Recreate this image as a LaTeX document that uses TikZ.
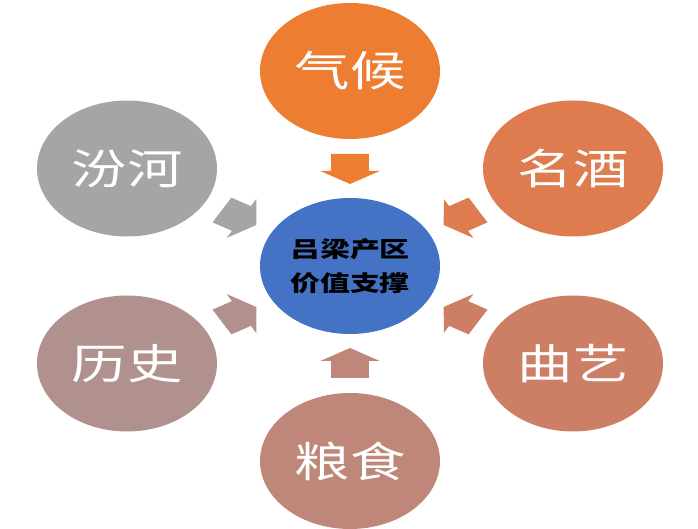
\documentclass[tikz,border=0pt]{standalone}
\usepackage{fontspec}
\usepackage{graphicx}
\newfontfamily\cjk{Noto Sans CJK SC}
\usetikzlibrary{shapes.geometric}
\definecolor{cQH}{HTML}{ED7D31}
\definecolor{cMJ}{HTML}{DE7C4F}
\definecolor{cQY}{HTML}{CD7F65}
\definecolor{cLS}{HTML}{BF877A}
\definecolor{cLSH}{HTML}{B1918D}
\definecolor{cFH}{HTML}{A5A5A5}
\definecolor{cCT}{HTML}{4472C4}
\newcommand\myblockarrow[2]{%
  \begin{scope}[shift={(ct.center)}, xscale=1.32, rotate=#1]
    \fill[#2] (82,0) -- (95,22.5) -- (95,14.3) -- (112,14.3) -- (112,-14.3) -- (95,-14.3) -- (95,-22.5) -- cycle;
  \end{scope}}
\begin{document}
\begin{tikzpicture}[x=1pt,y=1pt,
  petal/.style={ellipse, minimum width=180pt, minimum height=136pt, inner sep=0pt, text=white,
    font=\cjk\fontsize{42}{42}\selectfont},
  hub/.style={ellipse, minimum width=180pt, minimum height=136pt, inner sep=0pt, fill=cCT, text=black,
    align=center, font=\cjk\bfseries\fontsize{22}{34}\selectfont}]
\useasboundingbox (0,0) rectangle (698,529);
\node[hub] (ct) at (350,263) {\scalebox{1.36}[1]{吕梁产区}\\\scalebox{1.36}[1]{价值支撑}};
\node[petal, fill=cQH] (qh) at (350,458) {\scalebox{1.32}[1]{气候}};
\node[petal, fill=cMJ] (mj) at (573,360.5) {\scalebox{1.32}[1]{名酒}};
\node[petal, fill=cQY] (qy) at (573,165.5) {\scalebox{1.32}[1]{曲艺}};
\node[petal, fill=cLS] (ls) at (350,68) {\scalebox{1.32}[1]{粮食}};
\node[petal, fill=cLSH] (lsh) at (127,165.5) {\scalebox{1.32}[1]{历史}};
\node[petal, fill=cFH] (fh) at (127,360.5) {\scalebox{1.32}[1]{汾河}};
\myblockarrow{90}{cQH}
\myblockarrow{30}{cMJ}
\myblockarrow{-30}{cQY}
\myblockarrow{-90}{cLS}
\myblockarrow{210}{cLSH}
\myblockarrow{150}{cFH}
\end{tikzpicture}
\end{document}
